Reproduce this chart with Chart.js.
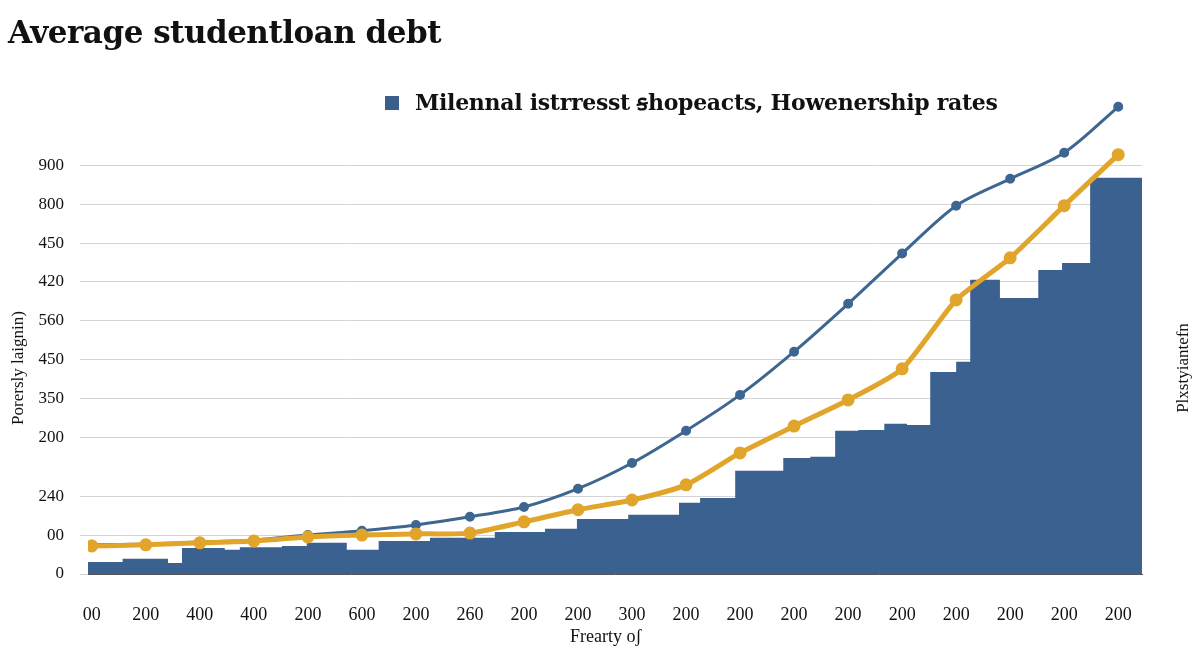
<!DOCTYPE html>
<html><head><meta charset="utf-8">
<script src="https://cdn.jsdelivr.net/npm/chart.js@4/dist/chart.umd.min.js"></script>
<style>
html,body{margin:0;padding:0;background:#fff;width:1200px;height:654px;overflow:hidden;font-family:"Liberation Serif","DejaVu Serif",serif;}
#wrap{position:absolute;left:0;top:0;width:1200px;height:654px;}
.t{position:absolute;white-space:nowrap;color:#111;}
</style></head><body>
<div id="wrap"><canvas id="c" width="1200" height="654"></canvas></div>
<div class="t" style="left:8px;top:14px;font-size:31px;font-weight:bold;font-family:'DejaVu Serif';letter-spacing:-0.5px;">Average studentloan debt</div>
<div class="t" style="left:385px;top:86px;font-size:22px;font-weight:bold;font-family:'DejaVu Serif';letter-spacing:-0.3px;"><span style="display:inline-block;width:14px;height:14px;background:#3a5f8a;margin-right:16px;"></span>Milennal istrresst ꞩhopeacts, Howenership rates</div>
<div class="t" style="left:-52px;top:358px;font-size:17px;transform:rotate(-90deg);width:140px;text-align:center;">Porersly laignin)</div>
<div class="t" style="left:1128px;top:358px;font-size:17px;transform:rotate(-90deg);width:110px;text-align:center;">Plxstyiantefn</div>
<div class="t" style="left:570px;top:626px;font-size:18px;">Frearty oʃ</div>
<script>
const xLabels=["00","200","400","400","200","600","200","260","200","200","300","200","200","200","200","200","200","200","200","200"];
const yTickPos=[0,1,2,3.5,4.5,5.5,6.5,7.5,8.5,9.5,10.5];
const yTickLabels=["0","00","240","200","350","450","560","420","450","800","900"];
const blueLine=[0.75,0.77,0.82,0.87,1.0,1.11,1.26,1.47,1.72,2.19,2.85,3.68,4.6,5.71,6.94,8.23,9.46,10.15,10.82,12.0];
const orangeLine=[0.72,0.75,0.8,0.85,0.95,1.0,1.03,1.05,1.34,1.65,1.9,2.29,3.11,3.8,4.47,5.27,7.04,8.12,9.46,10.77];
const barEdges=[-0.07,0.57,1.41,1.67,2.46,2.74,3.52,3.98,4.72,5.31,6.26,7.46,8.39,8.98,9.93,10.87,11.26,11.91,12.8,13.3,13.76,14.19,14.67,15.09,15.52,16.0,16.26,16.81,17.52,17.96,18.48,19.44];
const barValues=[0.31,0.39,0.28,0.67,0.62,0.69,0.72,0.8,0.62,0.85,0.93,1.08,1.16,1.41,1.52,1.83,1.95,2.65,2.98,3.01,3.68,3.7,3.86,3.83,5.19,5.45,7.56,7.09,7.81,7.99,10.18];

const barPts=barEdges.map((x,i)=>({x:x,y:barValues[Math.max(0,i-1)]}));
const blue='#3b6190', orange='#e0a52a';
new Chart(document.getElementById('c'),{
  type:'line',
  data:{datasets:[
    {label:'blue',data:blueLine.map((y,i)=>({x:i,y})),borderColor:'#3d6690',backgroundColor:'#3d6690',borderWidth:3,pointRadius:3.5,tension:0.3,order:1},
    {label:'orange',data:orangeLine.map((y,i)=>({x:i,y})),borderColor:orange,backgroundColor:orange,borderWidth:5,pointRadius:4,tension:0.2,order:0},
    {label:'bars',data:barPts,stepped:'after',fill:'origin',backgroundColor:blue,borderColor:blue,borderWidth:0,pointRadius:0,order:2}
  ]},
  options:{
    responsive:false,animation:false,
    layout:{padding:{left:0,right:58,top:99,bottom:0}},
    plugins:{legend:{display:false},tooltip:{enabled:false}},
    scales:{
      x:{type:'linear',min:-0.07,max:19.44,
        afterBuildTicks:s=>{s.ticks=xLabels.map((_,i)=>({value:i}));},
        afterFit:s=>{s.height=80;},
        grid:{display:false},border:{color:'#555',width:1},
        ticks:{padding:22,autoSkip:false,maxRotation:0,color:'#111',font:{family:'Liberation Serif',size:18},callback:v=>xLabels[v]}},
      y:{type:'linear',min:0,max:12.2,
        afterBuildTicks:s=>{s.ticks=yTickPos.map(v=>({value:v}));},
        afterFit:s=>{s.width=88;},
        grid:{color:'#d4d4d4'},border:{display:false},
        ticks:{padding:16,color:'#111',font:{family:'Liberation Serif',size:17},callback:(v)=>{const i=yTickPos.indexOf(v);return i>=0?yTickLabels[i]:'';}}}
    }
  }
});
</script>
</body></html>
